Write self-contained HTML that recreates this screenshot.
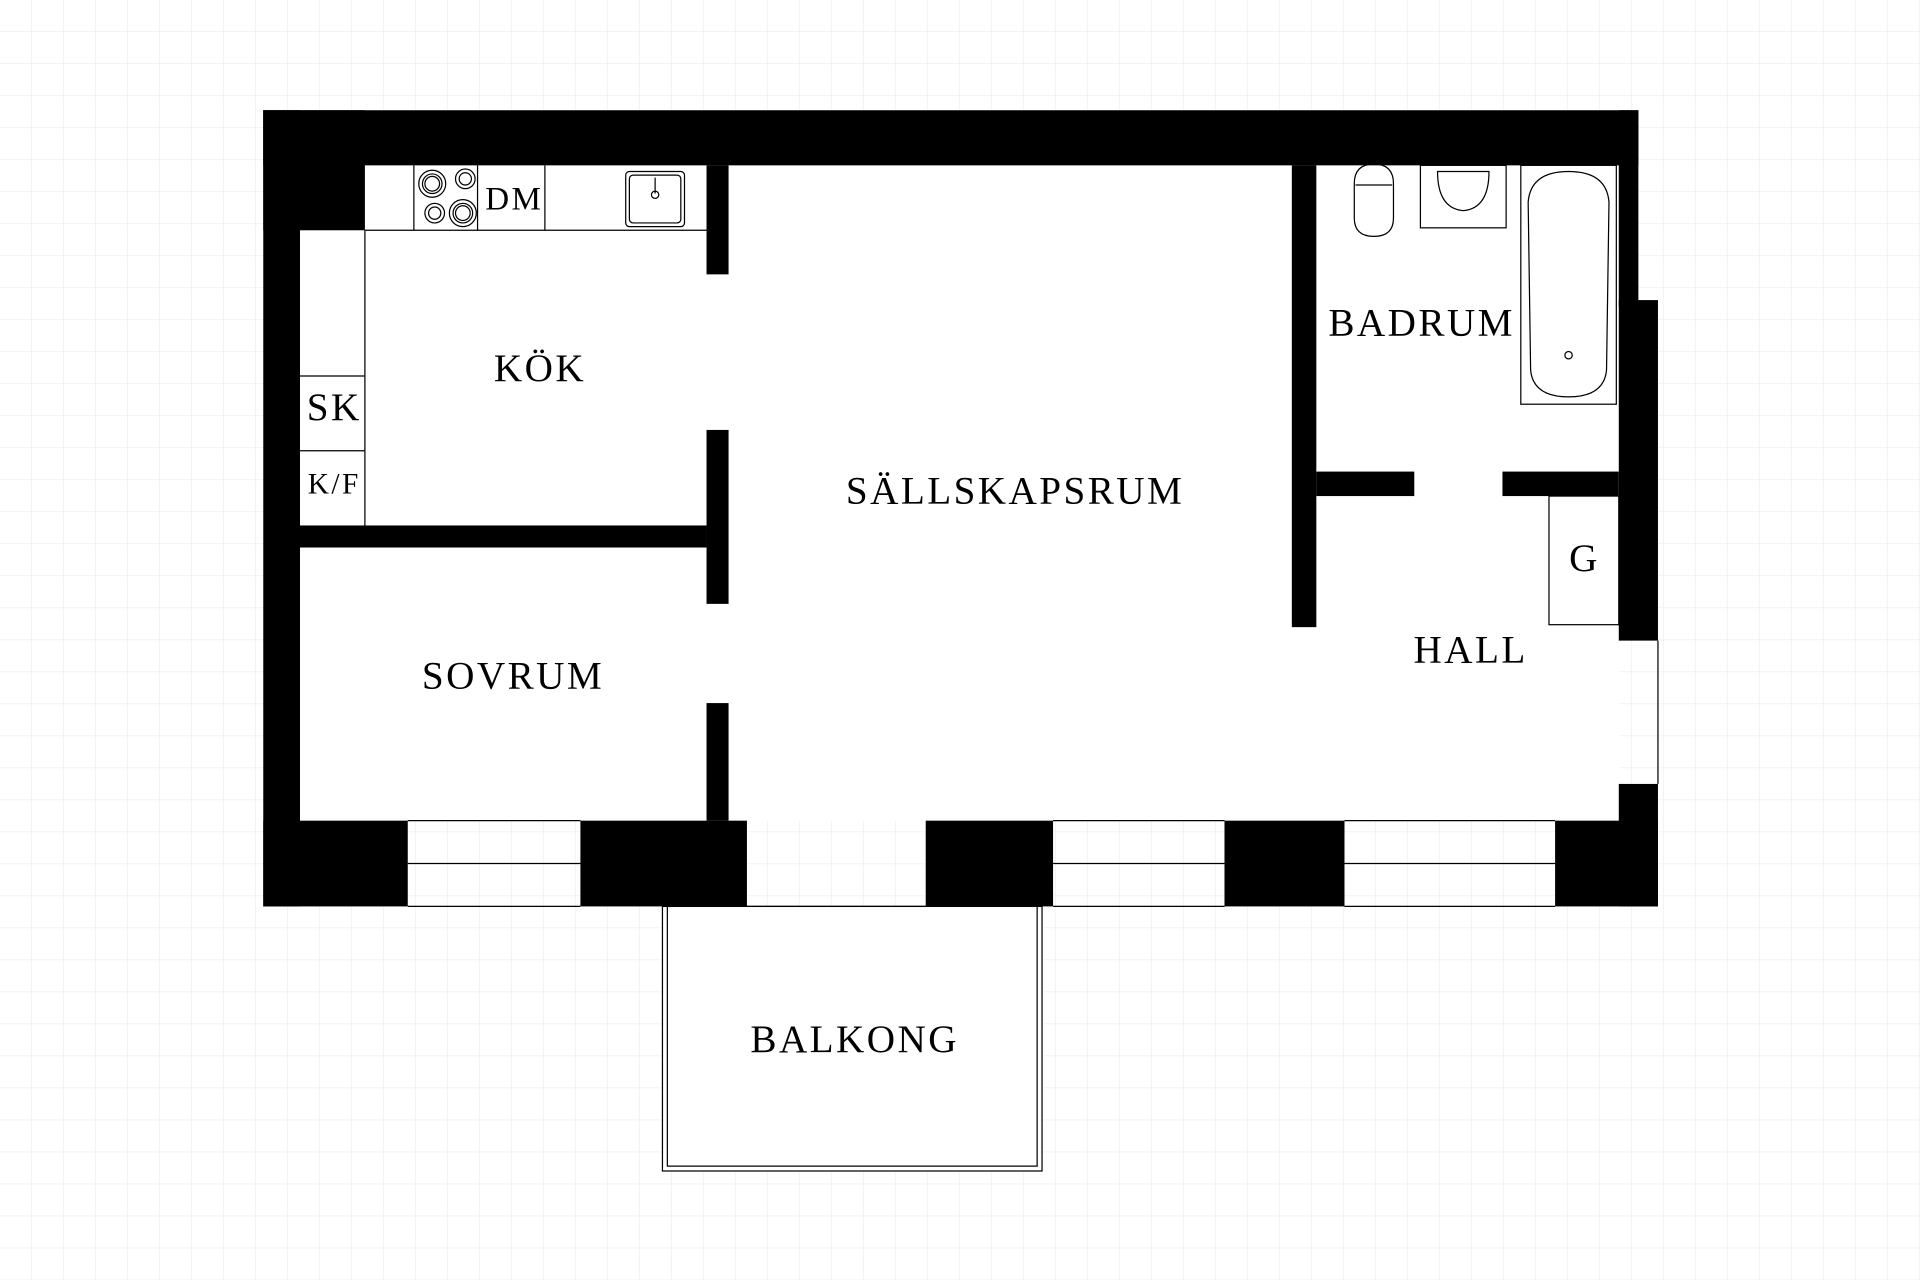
<!DOCTYPE html>
<html><head><meta charset="utf-8"><style>html,body{margin:0;padding:0;background:#fff}svg{display:block}</style></head>
<body>
<svg width="1920" height="1280" viewBox="0 0 1568 1045" preserveAspectRatio="none" xmlns="http://www.w3.org/2000/svg">
<defs>
<pattern id="g" width="26.13" height="26.13" patternUnits="userSpaceOnUse">
<path d="M26.13 0V26.13M0 26.13H26.13" stroke="#ebebeb" stroke-width="1" fill="none"/>
</pattern>
</defs>
<rect width="1568" height="1045" fill="#fff"/>
<rect width="1568" height="1045" fill="url(#g)"/>
<rect x="245" y="135" width="1077" height="535" fill="#fff"/>
<g fill="none" stroke="#000" stroke-width="1">
<rect x="541" y="740" width="310" height="216" fill="#fff"/>
<path d="M545 740V952H847V740"/>
<path d="M298 188H577M298 188V429M338 135V188M390 135V188M445 135V188M245 307H298M245 368H298"/>
<rect x="511" y="140" width="48" height="45" rx="3"/>
<rect x="514" y="143" width="42" height="39" rx="3"/>
<path d="M535 145V158"/><circle cx="535" cy="159" r="3"/>
<circle cx="353" cy="150" r="11"/><circle cx="353" cy="150" r="8"/><circle cx="353" cy="150" r="6"/>
<circle cx="380" cy="146" r="8"/><circle cx="380" cy="146" r="5"/>
<circle cx="355" cy="174" r="8"/><circle cx="355" cy="174" r="5"/>
<circle cx="378" cy="174" r="11"/><circle cx="378" cy="174" r="8"/><circle cx="378" cy="174" r="6"/>
<path d="M1106 150Q1106 134 1122 134Q1138 134 1138 150V178Q1138 193 1122 193Q1106 193 1106 178Z"/>
<path d="M1107 151H1137"/>
<rect x="1160" y="135" width="70" height="51"/>
<path d="M1174 140Q1174 170 1195 172Q1216 170 1216 140Z"/>
<rect x="1242" y="135" width="78" height="195"/>
<path d="M1248 165Q1250 140 1281 140Q1312 140 1314 165L1312 302Q1310 324 1281 324Q1252 324 1250 302Z"/>
<circle cx="1281" cy="290" r="3"/>
<rect x="1265" y="405" width="57" height="105"/>
<path d="M1354 523V640"/>
<path d="M333 670H474M333 705H474M333 740H474M860 670H1000M860 705H1000M860 740H1000M1098 670H1270M1098 705H1270M1098 740H1270M610 740H756"/>
</g>
<g fill="#000">
<rect x="215" y="90" width="1123" height="45"/>
<rect x="215" y="90" width="83" height="98"/>
<rect x="215" y="90" width="30" height="650"/>
<rect x="1322" y="90" width="16" height="160"/>
<rect x="1322" y="245" width="32" height="278"/>
<rect x="1322" y="640" width="32" height="100"/>
<rect x="215" y="670" width="118" height="70"/>
<rect x="474" y="670" width="136" height="70"/>
<rect x="756" y="670" width="104" height="70"/>
<rect x="1000" y="670" width="98" height="70"/>
<rect x="1270" y="670" width="84" height="70"/>
<rect x="577" y="135" width="18" height="89"/>
<rect x="577" y="351" width="18" height="142"/>
<rect x="577" y="574" width="18" height="96"/>
<rect x="245" y="429" width="332" height="18"/>
<rect x="1055" y="135" width="20" height="377"/>
<rect x="1075" y="385" width="80" height="20"/>
<rect x="1227" y="385" width="95" height="20"/>
</g>
<g font-family="'Liberation Serif',serif" fill="#000" text-anchor="middle" letter-spacing="2">
<text x="441" y="311" font-size="32">KÖK</text>
<text x="829" y="411" font-size="32">SÄLLSKAPSRUM</text>
<text x="419" y="562" font-size="32">SOVRUM</text>
<text x="1161" y="274" font-size="32">BADRUM</text>
<text x="1201" y="541" font-size="32">HALL</text>
<text x="1294" y="466" font-size="32">G</text>
<text x="698" y="859" font-size="32">BALKONG</text>
<text x="273" y="343" font-size="32">SK</text>
<text x="273" y="403" font-size="24">K/F</text>
<text x="420" y="171" font-size="27">DM</text>
</g>
</svg>
</body></html>
